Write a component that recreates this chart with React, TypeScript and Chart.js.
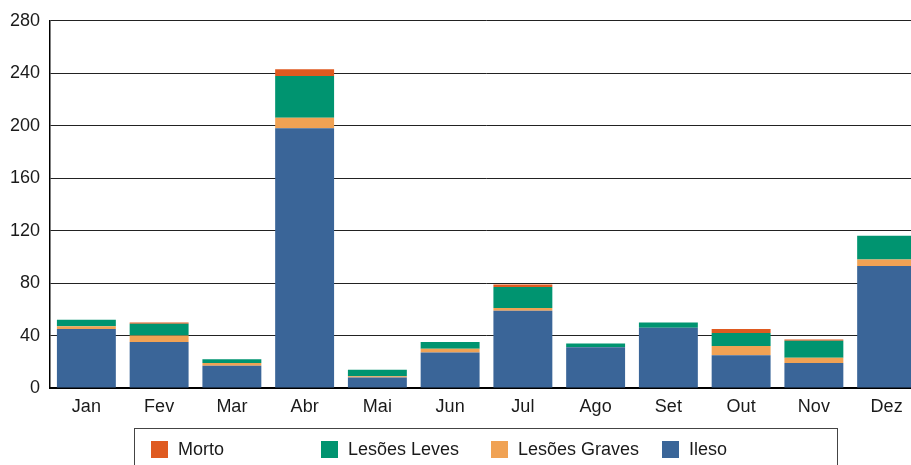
import React, { useEffect, useRef } from 'react';
import { Chart, registerables } from 'chart.js';
Chart.register(...registerables);

const months = ['Jan', 'Fev', 'Mar', 'Abr', 'Mai', 'Jun', 'Jul', 'Ago', 'Set', 'Out', 'Nov', 'Dez'];
const ileso = [45, 35, 17, 198, 8, 27, 59, 31, 46, 25, 19, 93];
const lesoesGraves = [2, 5, 2, 8, 1, 3, 2, 0, 0, 7, 4, 5];
const lesoesLeves = [5, 9, 3, 32, 5, 5, 16, 3, 4, 10, 13, 18];
const morto = [0, 1, 0, 5, 0, 0, 2, 0, 0, 3, 1, 0];

const C_MORTO = '#DF5A20';
const C_LEVES = '#009470';
const C_GRAVES = '#F0A254';
const C_ILESO = '#3A6598';

const legendLabels = ['Morto', 'Lesões Leves', 'Lesões Graves', 'Ileso'];
const legendColors = [C_MORTO, C_LEVES, C_GRAVES, C_ILESO];

const FONT = "'Liberation Sans', Arial, sans-serif";

const legendPlugin = {
  id: 'customLegend',
  afterDraw(chart: any) {
    const ctx = chart.ctx as CanvasRenderingContext2D;
    ctx.save();
    ctx.strokeStyle = '#444';
    ctx.lineWidth = 1;
    ctx.strokeRect(134.5, 428.5, 703, 60);
    ctx.font = `18px ${FONT}`;
    ctx.textBaseline = 'middle';
    ctx.textAlign = 'left';
    const xs = [151, 321, 491, 662];
    legendLabels.forEach((lab, i) => {
      ctx.fillStyle = legendColors[i];
      ctx.fillRect(xs[i], 441, 17, 17);
      ctx.fillStyle = '#1a1a1a';
      ctx.fillText(lab, xs[i] + 27, 450);
    });
    ctx.restore();
  },
};

export default function App() {
  const ref = useRef<HTMLCanvasElement>(null);
  useEffect(() => {
    const font = { family: FONT, size: 18 };
    const chart = new Chart(ref.current!, {
      type: 'bar',
      data: {
        labels: months,
        datasets: [
          { label: 'Ileso', data: ileso, backgroundColor: C_ILESO },
          { label: 'Lesões Graves', data: lesoesGraves, backgroundColor: C_GRAVES },
          { label: 'Lesões Leves', data: lesoesLeves, backgroundColor: C_LEVES },
          { label: 'Morto', data: morto, backgroundColor: C_MORTO },
        ],
      },
      options: {
        responsive: false,
        maintainAspectRatio: false,
        animation: false,
        layout: { padding: { left: 0, right: 0, top: 19, bottom: 47 } },
        plugins: { legend: { display: false }, tooltip: { enabled: false } },
        datasets: { bar: { categoryPercentage: 0.81, barPercentage: 1 } },
        scales: {
          x: {
            stacked: true,
            grid: { display: false, drawTicks: false },
            border: { display: true, color: '#000', width: 2 },
            ticks: { padding: 8, font, color: '#1a1a1a' },
            afterFit: (s: any) => { s.height = 30; },
          },
          y: {
            stacked: true,
            min: 0,
            max: 280,
            ticks: { stepSize: 40, padding: 10, font, color: '#1a1a1a' },
            grid: { color: '#222', drawTicks: false },
            border: { color: '#000', width: 1.5 },
            afterFit: (s: any) => { s.width = 50; },
          },
        },
      } as any,
      plugins: [legendPlugin],
    });
    return () => chart.destroy();
  }, []);
  return (
    <div style={{ position: 'fixed', left: 0, top: 0, width: 911, height: 465, overflow: 'hidden', background: '#fff' }}>
      <canvas ref={ref} width={923} height={465} style={{ display: 'block' }} />
    </div>
  );
}
